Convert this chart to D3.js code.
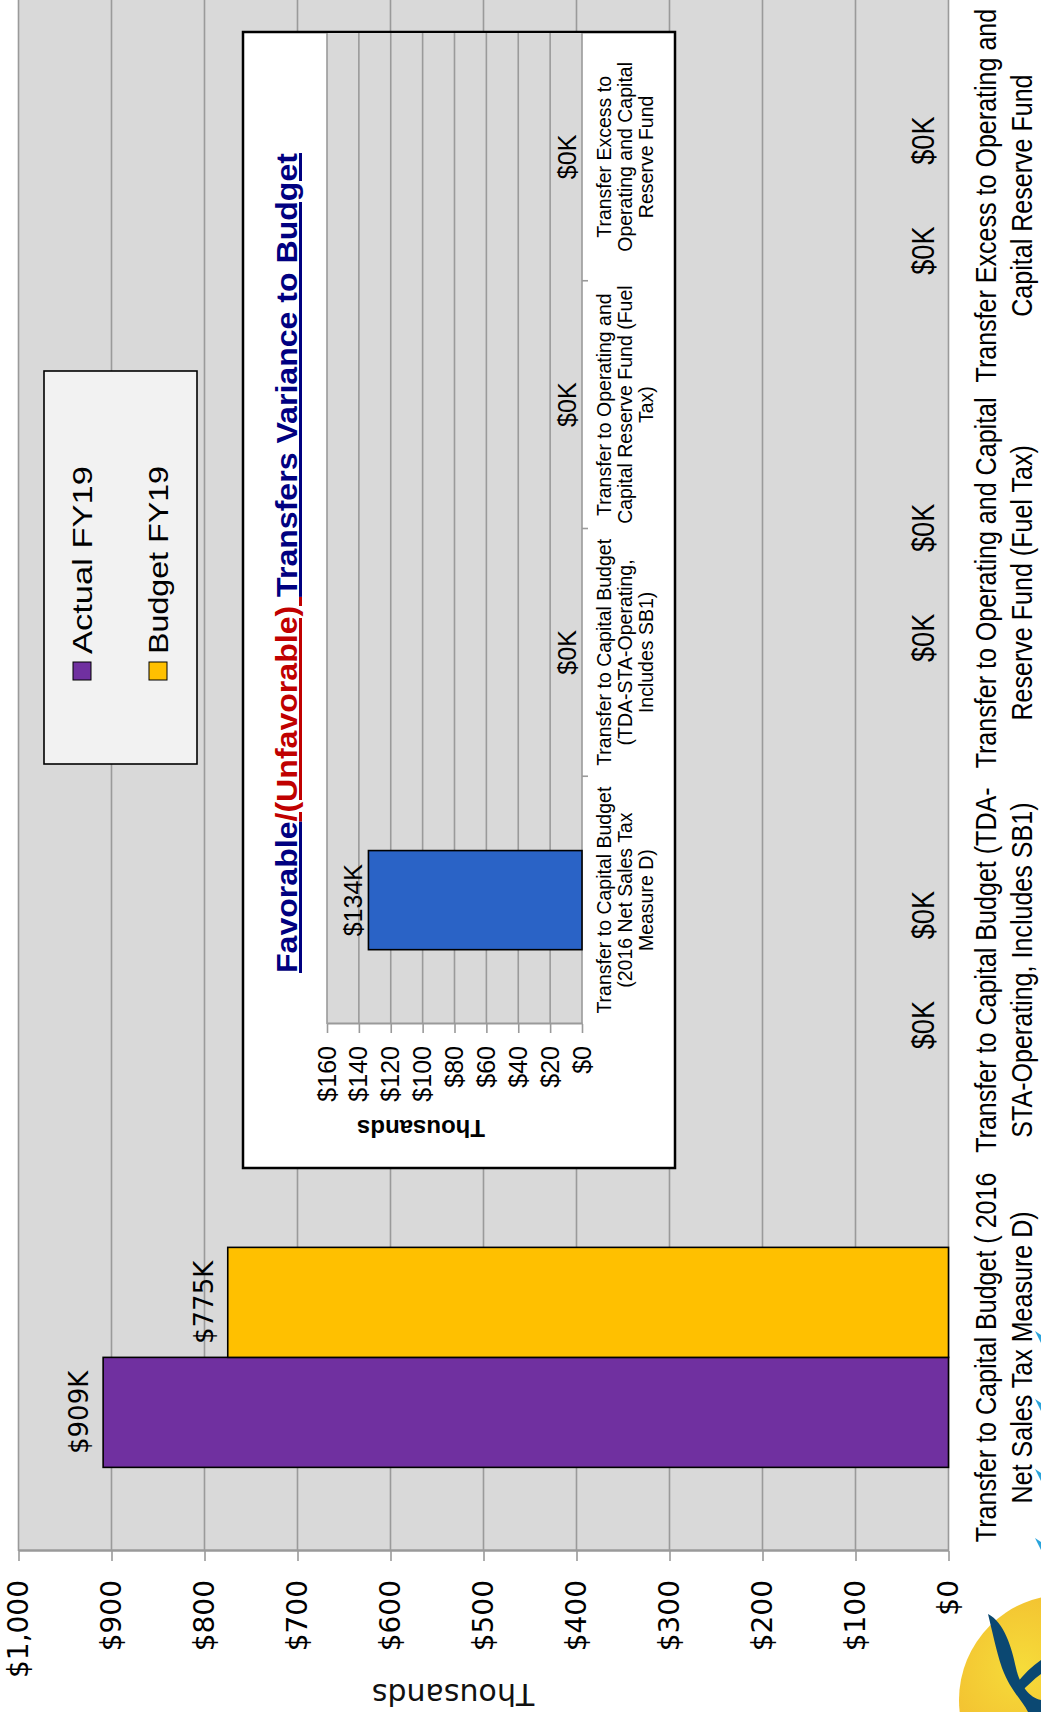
<!DOCTYPE html>
<html><head><meta charset="utf-8">
<script src="https://cdn.jsdelivr.net/npm/d3@7"></script>
<style>
html,body{margin:0;padding:0;background:#fff;}
svg{display:block;}
</style></head><body>
<svg id="chart" width="1041" height="1712"></svg>
<script>
// ---------- data ----------
const categoryLines = [
  ["Transfer to Capital Budget ( 2016", "Net Sales Tax Measure D)"],
  ["Transfer to Capital Budget (TDA-", "STA-Operating, Includes SB1)"],
  ["Transfer to Operating and Capital", "Reserve Fund (Fuel Tax)"],
  ["Transfer Excess to Operating and", "Capital Reserve Fund"]
];
const categories = categoryLines.map(l => l.join(" "));
const seriesNames = ["Actual FY19", "Budget FY19"];
const seriesColors = ["#7030A0", "#FFC000"];
const actualFY19 = [909, 0, 0, 0];
const budgetFY19 = [775, 0, 0, 0];
const valueTicks = [0, 100, 200, 300, 400, 500, 600, 700, 800, 900, 1000];

const varianceCategoryLines = [
  ["Transfer to Capital Budget", "(2016 Net Sales Tax", "Measure D)"],
  ["Transfer to Capital Budget", "(TDA-STA-Operating,", "Includes SB1)"],
  ["Transfer to Operating and", "Capital Reserve Fund (Fuel", "Tax)"],
  ["Transfer Excess to", "Operating and Capital", "Reserve Fund"]
];
const variance = [134, 0, 0, 0];
const varianceTicks = [0, 20, 40, 60, 80, 100, 120, 140, 160];
const titleParts = [
  {text: "Favorable", color: "#000080"},
  {text: "/(Unfavorable) ", color: "#C00000"},
  {text: "Transfers Variance to Budget", color: "#000080"}
];

// ---------- setup ----------
const svg = d3.select("#chart");
const GRID = "#9a9a9a";
const ARIAL = "'Liberation Sans', Arial, sans-serif";
const DEJAVU = "'DejaVu Sans', Verdana, sans-serif";
const NARROW_SCALE = 0.85;

// logo (screen coordinates, under everything else)
const defs = svg.append("defs");
const grad = defs.append("radialGradient").attr("id", "logoGrad").attr("cx", "30%").attr("cy", "35%").attr("r", "75%");
grad.append("stop").attr("offset", "0%").attr("stop-color", "#F6DC3A");
grad.append("stop").attr("offset", "100%").attr("stop-color", "#F0A828");
svg.append("circle").attr("cx", 1064).attr("cy", 1700).attr("r", 105).attr("fill", "url(#logoGrad)");
svg.append("path").attr("d", "M988,1614 C1004,1622 1012,1648 1016,1668 C1020,1686 1030,1698 1041,1700 L1041,1712 L1028,1712 C1022,1700 1010,1690 1002,1668 C996,1650 992,1630 988,1614 Z")
  .attr("fill", "#0B4872");
svg.append("path").attr("d", "M1016,1684 C1024,1674 1032,1666 1041,1660 L1041,1674 C1034,1679 1027,1686 1021,1692 Z").attr("fill", "#0B4872");
[1338, 1406, 1476, 1545].forEach(yy => {
  svg.append("path").attr("d", `M1035,${yy-7} L1041,${yy+5} L1041,${yy-3} Z`).attr("fill", "#2AA4DC");
});

// rotated frame: (u, v) -> screen (v, 1712 - u)
const g = svg.append("g").attr("transform", "translate(0,1712) rotate(-90)");

// ---------- main chart ----------
const x0 = d3.scaleBand().domain(categories).range([161, 1712 - 2]);
const x1 = d3.scaleBand().domain(seriesNames).range([-110, 110]);
const y = d3.scaleLinear().domain([0, 1000]).range([948.5, 18.5]);

g.append("rect").attr("x", 161).attr("y", y(1000)).attr("width", 1712 - 161).attr("height", y(0) - y(1000)).attr("fill", "#D9D9D9");
g.append("g").selectAll("line").data(valueTicks).join("line")
  .attr("x1", 161).attr("x2", 1712).attr("y1", d => y(d)).attr("y2", d => y(d))
  .attr("stroke", GRID).attr("stroke-width", 1.6);

const yAxis = g.append("g").attr("transform", "translate(161,0)")
  .call(d3.axisLeft(y).tickValues(valueTicks).tickSize(10).tickSizeOuter(0).tickPadding(19)
    .tickFormat(d => "$" + d3.format(",")(d)));
yAxis.select(".domain").attr("stroke", GRID).attr("stroke-width", 2.5);
yAxis.selectAll(".tick line").attr("stroke", GRID).attr("stroke-width", 1.6);
yAxis.selectAll(".tick text").attr("font-family", DEJAVU).attr("font-size", 28).attr("fill", "#000");

g.append("text").attr("transform", "translate(28,453) rotate(-90)").attr("text-anchor", "middle")
  .attr("font-family", DEJAVU).attr("font-size", 30).attr("fill", "#111").text("Thousands");

// category labels (condensed)
const catLab = g.append("g").selectAll("text").data(categoryLines).join("text")
  .attr("transform", (d, i) => `translate(${x0(categories[i]) + x0.bandwidth() / 2},0) scale(${NARROW_SCALE},1)`)
  .attr("font-family", ARIAL).attr("font-size", 29.5).attr("text-anchor", "middle").attr("fill", "#000");
catLab.each(function(lines) {
  d3.select(this).selectAll("tspan").data(lines).join("tspan")
    .attr("x", 0).attr("y", (d, j) => 996 + j * 36).text(d => d);
});

// bars
const barData = [];
categories.forEach((c, i) => {
  barData.push({c, s: seriesNames[0], v: actualFY19[i], color: seriesColors[0]});
  barData.push({c, s: seriesNames[1], v: budgetFY19[i], color: seriesColors[1]});
});
const cx0 = d => x0(d.c) + x0.bandwidth() / 2 + x1(d.s);
g.append("g").selectAll("rect").data(barData).join("rect")
  .attr("x", cx0).attr("width", x1.bandwidth())
  .attr("y", d => y(d.v)).attr("height", d => y(0) - y(d.v))
  .attr("fill", d => d.color).attr("stroke", d => d.v > 0 ? "#000" : "none").attr("stroke-width", 1.6);
g.append("g").selectAll("text").data(barData).join("text")
  .attr("transform", d => `translate(${cx0(d) + x1.bandwidth() / 2},${y(d.v) - 15})` + (d.v > 0 ? "" : ` scale(${NARROW_SCALE},1)`))
  .attr("text-anchor", "middle").attr("fill", "#000")
  .attr("font-family", d => d.v > 0 ? DEJAVU : ARIAL).attr("font-size", d => d.v > 0 ? 26 : 32)
  .text(d => "$" + d.v + "K");

// legend
const lg = g.append("g");
lg.append("rect").attr("x", 948).attr("y", 44).attr("width", 1341 - 948).attr("height", 153)
  .attr("fill", "#F2F2F2").attr("stroke", "#000").attr("stroke-width", 1.6);
const li = lg.selectAll("g.item").data(seriesNames).join("g").attr("class", "item")
  .attr("transform", (d, i) => `translate(0,${i * 76})`);
li.append("rect").attr("x", 1032).attr("y", 73).attr("width", 18).attr("height", 18)
  .attr("fill", (d, i) => seriesColors[i]).attr("stroke", "#000").attr("stroke-width", 1);
li.append("text").attr("x", 1058).attr("y", 92).attr("font-family", ARIAL).attr("font-size", 28)
  .attr("fill", "#000").attr("textLength", 188).attr("lengthAdjust", "spacingAndGlyphs").text(d => d);

// ---------- inset chart ----------
const ins = g.append("g");
ins.append("rect").attr("x", 544).attr("y", 243).attr("width", 1680 - 544).attr("height", 675 - 243)
  .attr("fill", "#fff").attr("stroke", "#000").attr("stroke-width", 2.5);
const xi = d3.scaleBand().domain(categories).range([688, 1679]);
const yi = d3.scaleLinear().domain([0, 160]).range([582, 327]);
ins.append("rect").attr("x", 688).attr("y", yi(160)).attr("width", 1679 - 688).attr("height", yi(0) - yi(160)).attr("fill", "#D9D9D9");
ins.append("g").selectAll("line").data(varianceTicks).join("line")
  .attr("x1", 688).attr("x2", 1679).attr("y1", d => yi(d)).attr("y2", d => yi(d))
  .attr("stroke", GRID).attr("stroke-width", 1.6);
const yiAxis = ins.append("g").attr("transform", "translate(688,0)")
  .call(d3.axisLeft(yi).tickValues(varianceTicks).tickSize(9).tickSizeOuter(0).tickPadding(13)
    .tickFormat(d => "$" + d));
yiAxis.select(".domain").attr("stroke", GRID).attr("stroke-width", 2);
yiAxis.selectAll(".tick line").attr("stroke", GRID).attr("stroke-width", 1.6);
yiAxis.selectAll(".tick text").attr("font-family", ARIAL).attr("font-size", 25).attr("fill", "#000");
// category ticks
ins.append("g").selectAll("line").data(categories.slice(1)).join("line")
  .attr("x1", d => xi(d)).attr("x2", d => xi(d)).attr("y1", yi(0)).attr("y2", yi(0) + 6)
  .attr("stroke", GRID).attr("stroke-width", 1.6);
// bars
const bw = xi.bandwidth() * 0.4;
ins.append("g").selectAll("rect").data(variance).join("rect")
  .attr("x", (d, i) => xi(categories[i]) + xi.bandwidth() / 2 - bw / 2).attr("width", bw)
  .attr("y", d => yi(Math.max(d, 0))).attr("height", d => Math.abs(yi(0) - yi(d)))
  .attr("fill", "#2A63C6").attr("stroke", d => d !== 0 ? "#000" : "none").attr("stroke-width", 1.6);
ins.append("g").selectAll("text").data(variance).join("text")
  .attr("x", (d, i) => xi(categories[i]) + xi.bandwidth() / 2).attr("y", d => yi(d) - 6)
  .attr("text-anchor", "middle").attr("font-family", ARIAL).attr("font-size", 25).attr("fill", "#000")
  .text(d => "$" + d + "K");
// category labels
const icl = ins.append("g").selectAll("text").data(varianceCategoryLines).join("text")
  .attr("font-family", ARIAL).attr("font-size", 19.5).attr("text-anchor", "middle").attr("fill", "#000");
icl.each(function(lines, i) {
  const cx = xi(categories[i]) + xi.bandwidth() / 2;
  d3.select(this).selectAll("tspan").data(lines).join("tspan")
    .attr("x", cx).attr("y", (d, j) => 611 + j * 21).text(d => d);
});
ins.append("text").attr("transform", "translate(592,421) rotate(-90)").attr("text-anchor", "middle")
  .attr("font-family", ARIAL).attr("font-weight", "bold").attr("font-size", 24).attr("fill", "#000").text("Thousands");
// title
const title = ins.append("text").attr("x", 1149).attr("y", 297).attr("text-anchor", "middle")
  .attr("font-family", ARIAL).attr("font-weight", "bold").attr("font-size", 30)
  .attr("textLength", 820).attr("lengthAdjust", "spacingAndGlyphs");
title.selectAll("tspan").data(titleParts).join("tspan")
  .attr("fill", d => d.color).style("text-decoration", "underline").style("white-space", "pre").text(d => d.text);
</script>
</body></html>
